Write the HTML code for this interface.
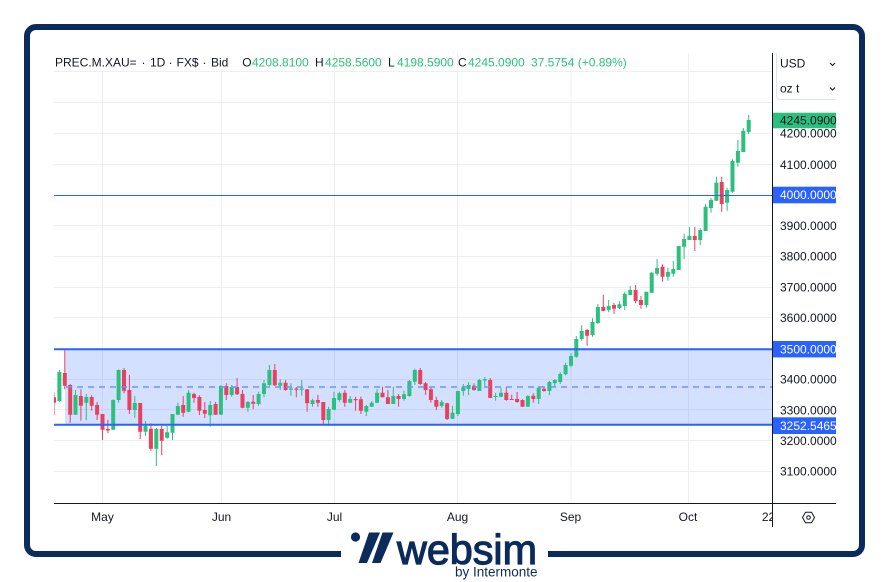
<!DOCTYPE html>
<html><head><meta charset="utf-8"><style>
html,body{margin:0;padding:0;background:#fff;}
svg{display:block;font-family:"Liberation Sans",Arial,sans-serif;}
</style></head><body>
<svg width="890" height="582" viewBox="0 0 890 582" xmlns="http://www.w3.org/2000/svg">
<defs>
<clipPath id="plot"><rect x="54" y="53" width="718" height="450"/></clipPath>
<clipPath id="tax"><rect x="54" y="504" width="718" height="30"/></clipPath>
</defs>
<rect width="890" height="582" fill="#fff"/>
<!-- frame -->
<rect x="27" y="27" width="835" height="527" rx="9" ry="9" fill="#fff" stroke="#0b2b5c" stroke-width="6"/>
<rect x="341" y="546" width="207" height="14" fill="#fff"/>

<!-- grid -->
<g stroke="#eeeff2" stroke-width="1">
<path d="M54 71.5H772M54 102.5H772M54 133.5H772M54 164.5H772M54 225.5H772M54 256.5H772M54 287.5H772M54 317.5H772M54 379.5H772M54 409.5H772M54 440.5H772M54 471.5H772"/>
<path d="M102.5 53V503M221.5 53V503M334.5 53V503M457.5 53V503M571 53V503M688.5 53V503"/>
</g>
<rect x="54" y="53" width="184" height="18" fill="#fff"/>

<!-- rectangle zone -->
<rect x="65" y="349.3" width="707" height="75.5" fill="rgba(41,98,255,0.2)"/>

<g clip-path="url(#plot)">
<!-- green candles -->
<path fill="none" stroke="#2dbf7e" stroke-width="1" d="M59.4 370V401.7M75.5 390V415M86.3 394V420.3M113.2 399.3V430M118.6 369.3V402.7M134.8 396V417.7M145.5 421V435.7M156.3 428V466M167.1 426V438.7M172.5 414V440M177.9 402.7V415M188.6 390V412.3M210.2 401V426.7M220.9 385V414.7M231.7 385V396.7M247.9 401V411.7M258.6 391.7V405.7M264 380V397.3M269.4 365V386M280.2 379.3V390M290.9 383.3V395.7M301.7 380V395.7M312.5 398.7V406.7M328.6 406.7V425.7M334 391.7V410M339.4 391.7V401.7M350.2 396V403.3M366.3 405V416M371.7 401.3V406.7M377.1 389.3V403.3M393.3 386.7V404M404 390.7V400.7M409.4 380V396.7M414.8 368.7V385M441.7 400V407.7M452.5 405.7V419M457.9 390.7V416M463.3 384V395.7M468.6 382V395M479.4 378.7V391M484.8 377V386M495.6 392.7V400.7M501 387.7V397.3M527.9 395V406.7M538.7 386V404M549.4 381V395M554.8 379V387.3M560.2 372V384M565.6 362.7V375.3M571 353.3V367.3M576.3 336V357.7M581.7 325.3V340.7M592.5 318.3V336.7M597.9 304V324M608.7 300V312.3M619.4 301V309M624.8 291.7V310M630.2 286V295M646.4 291.7V307.7M651.7 272V292.7M657.1 259V275.7M667.9 267.7V280.7M673.3 260.7V276.7M678.7 246V270M684.1 233.7V259M689.4 227V240M700.2 228.3V245M705.6 204V231M711 198V212.7M716.4 176.7V201M727.1 187.7V210.7M732.5 159.3V192.7M737.9 140V166.7M743.3 128V152M748.7 115V134"/>
<path fill="#2dbf7e" d="M57.4 372h4V401h-4zM73.5 395h4V414.7h-4zM84.3 397h4V402.7h-4zM111.2 400h4V429.7h-4zM116.6 370h4V400h-4zM132.8 403h4V410h-4zM143.5 426h4V431.7h-4zM154.3 429h4V448.7h-4zM165.1 432.3h4V437.7h-4zM170.5 414h4V432.7h-4zM175.9 406h4V414.7h-4zM186.6 392.7h4V411.7h-4zM208.2 405h4V415.3h-4zM218.9 386h4V414.7h-4zM229.7 387h4V395h-4zM245.9 402h4V407.7h-4zM256.6 394h4V404h-4zM262 383.3h4V394h-4zM267.4 370h4V385h-4zM278.2 382.7h4V385.7h-4zM288.9 388.5h4V389.7h-4zM299.7 388.5h4V389.7h-4zM310.5 400.3h4V404h-4zM326.6 409h4V420h-4zM332 398h4V409.7h-4zM337.4 393.3h4V400h-4zM348.2 399h4V402.7h-4zM364.3 406h4V411.7h-4zM369.7 402.7h4V406.7h-4zM375.1 392.7h4V402.7h-4zM391.3 396h4V404h-4zM402 394.3h4V399h-4zM407.4 381h4V396h-4zM412.8 370h4V381.7h-4zM439.7 402h4V406h-4zM450.5 412.7h4V418.7h-4zM455.9 391h4V414h-4zM461.3 387.3h4V391h-4zM466.6 385h4V389h-4zM477.4 380h4V391h-4zM482.8 379.3h4V380.5h-4zM493.6 396h4V397h-4zM499 392.7h4V396.7h-4zM525.9 396h4V406.7h-4zM536.7 387.7h4V399h-4zM547.4 382h4V391h-4zM552.8 380h4V383.3h-4zM558.2 374h4V382h-4zM563.6 365h4V374.3h-4zM569 356h4V365.7h-4zM574.3 339h4V356.7h-4zM579.7 331h4V339h-4zM590.5 322h4V335h-4zM595.9 307h4V323h-4zM606.7 306h4V310h-4zM617.4 304.3h4V308h-4zM622.8 293.7h4V306h-4zM628.2 290h4V295h-4zM644.4 291.7h4V305h-4zM649.7 272.7h4V292.7h-4zM655.1 268h4V273.7h-4zM665.9 272h4V276.7h-4zM671.3 269h4V273.7h-4zM676.7 246h4V270h-4zM682.1 239h4V246.7h-4zM687.4 236h4V240h-4zM698.2 230h4V240h-4zM703.6 206.7h4V231h-4zM709 200h4V208h-4zM714.4 182.7h4V200.7h-4zM725.1 190h4V202.7h-4zM730.5 161h4V191.7h-4zM735.9 151h4V162.7h-4zM741.3 130.7h4V152h-4zM746.7 120h4V132h-4z"/>
<!-- red candles -->
<path fill="none" stroke="#e8415f" stroke-width="1" d="M54 392.7V415M64.8 349.3V389.3M70.2 384V422.7M80.9 389.3V420.7M91.7 395.3V410.7M97.1 402V420M102.5 414V440M107.9 420V433.3M124 368V393.3M129.4 375V414M140.2 403V439M150.9 423.3V450.7M161.7 425.7V455M183.2 396V416.7M194 392.7V402.7M199.4 395.3V415M204.8 402V418M215.6 402V415M226.3 383.3V400M237.1 378V395M242.5 390V408.3M253.2 395V409.3M274.8 364V386M285.6 380V390.7M296.3 387V397.3M307.1 389.3V411.7M317.9 395V406.7M323.3 402V424M344.8 390V406.7M355.6 396.7V410.7M360.9 396.7V414M382.5 386.7V397.3M387.9 390V404M398.6 394V406.7M420.2 368V385M425.6 382V395M430.9 387.3V402.7M436.3 396.7V410M447.1 402.7V420M474 383.3V390.7M490.2 378V398M506.3 387.3V400.7M511.7 394.7V400M517.1 392V402.7M522.5 399.3V406.7M533.3 393.3V402.7M544 387.3V391.7M587.1 329V345.7M603.3 294.7V311M614 302.7V314M635.6 285V303.3M641 296V308.7M662.5 264.3V281.7M694.8 227V251M721.7 176.7V211.7"/>
<path fill="#e8415f" d="M52 397.3h4V402.7h-4zM62.8 373h4V385.7h-4zM68.2 385h4V414.7h-4zM78.9 396h4V405.7h-4zM89.7 397h4V405.7h-4zM95.1 405h4V414.7h-4zM100.5 414h4V429.7h-4zM105.9 429h4V430.5h-4zM122 370h4V390.7h-4zM127.4 390h4V410h-4zM138.2 403h4V431.7h-4zM148.9 428.7h4V448.7h-4zM159.7 429h4V440.7h-4zM181.2 405h4V412.7h-4zM192 394h4V398h-4zM197.4 397h4V410.7h-4zM202.8 410h4V413.7h-4zM213.6 404h4V414.7h-4zM224.3 386h4V395h-4zM235.1 387h4V394.3h-4zM240.5 394h4V407.7h-4zM251.2 401.7h4V403.7h-4zM272.8 370h4V385.3h-4zM283.6 382.7h4V390h-4zM294.3 388.5h4V389.7h-4zM305.1 389.3h4V403.3h-4zM315.9 400h4V402.7h-4zM321.3 402h4V420h-4zM342.8 392.7h4V402.7h-4zM353.6 399h4V400.2h-4zM358.9 399.3h4V410.7h-4zM380.5 392.7h4V397.3h-4zM385.9 397.3h4V404h-4zM396.6 396h4V399h-4zM418.2 370h4V384h-4zM423.6 383.3h4V390h-4zM428.9 389.3h4V400h-4zM434.3 400h4V406.7h-4zM445.1 403.3h4V419h-4zM472 385.7h4V390h-4zM488.2 380h4V398h-4zM504.3 392.7h4V400h-4zM509.7 399h4V400h-4zM515.1 399h4V402h-4zM520.5 400h4V406.7h-4zM531.3 395.7h4V399h-4zM542 388.7h4V391h-4zM585.1 330h4V335.7h-4zM601.3 307h4V311h-4zM612 305h4V308.7h-4zM633.6 290h4V301h-4zM639 300h4V305h-4zM660.5 266.7h4V276.7h-4zM692.8 236h4V240h-4zM719.7 182h4V204h-4z"/>
</g>

<!-- horizontal lines -->
<path d="M54 195.5H772" stroke="#2962ff" stroke-width="1"/>
<path d="M54 349.3H772M54 424.8H772" stroke="#2962ff" stroke-width="2"/>
<path d="M66 387H772" stroke="#6b95f9" stroke-width="1.6" stroke-dasharray="6 5"/>

<!-- axes -->
<path d="M772.5 53V527" stroke="#131722" stroke-width="1"/>
<path d="M54 503.5H836" stroke="#131722" stroke-width="1"/>

<!-- header legend -->
<text y="66.5" font-size="12" fill="#131722">
<tspan x="55">PREC.M.XAU=</tspan><tspan x="141.5">·</tspan><tspan x="150">1D</tspan><tspan x="168.5">·</tspan><tspan x="176.5">FX$</tspan><tspan x="202.5">·</tspan><tspan x="211">Bid</tspan>
<tspan x="242.3">O</tspan><tspan x="252" fill="#2dbf7e">4208.8100</tspan>
<tspan x="315">H</tspan><tspan x="325" fill="#2dbf7e">4258.5600</tspan>
<tspan x="388">L</tspan><tspan x="397" fill="#2dbf7e">4198.5900</tspan>
<tspan x="458">C</tspan><tspan x="468" fill="#2dbf7e">4245.0900</tspan>
<tspan x="531" fill="#2dbf7e">37.5754 (+0.89%)</tspan>
</text>

<!-- currency / unit box -->
<path d="M776.5 53V96a3.5 3.5 0 0 0 3.5 3.5H836" fill="none" stroke="#e0e3eb" stroke-width="1"/>
<text x="780" y="67.5" font-size="12" fill="#131722">USD</text>
<text x="780" y="92.5" font-size="12" fill="#131722">oz t</text>
<polyline points="830,63 832.5,65.5 835,63" fill="none" stroke="#131722" stroke-width="1.1"/>
<polyline points="830,87.5 832.5,90 835,87.5" fill="none" stroke="#131722" stroke-width="1.1"/>

<!-- price labels -->
<g font-size="12" fill="#131722">
<text x="780" y="137.6">4200.0000</text>
<text x="780" y="168.9">4100.0000</text>
<text x="780" y="229.9">3900.0000</text>
<text x="780" y="260.6">3800.0000</text>
<text x="780" y="291.4">3700.0000</text>
<text x="780" y="322.1">3600.0000</text>
<text x="780" y="383.5">3400.0000</text>
<text x="780" y="414.3">3300.0000</text>
<text x="780" y="445">3200.0000</text>
<text x="780" y="475.7">3100.0000</text>
</g>
<rect x="773" y="112.7" width="63" height="15.6" fill="#2dbf7e"/>
<text x="780" y="124.6" font-size="12" fill="#131722">4245.0900</text>
<rect x="773" y="186.7" width="63" height="16.6" fill="#2962ff"/>
<text x="780" y="199.2" font-size="12" fill="#fff">4000.0000</text>
<rect x="773" y="341" width="63" height="16.4" fill="#2962ff"/>
<text x="780" y="353.4" font-size="12" fill="#fff">3500.0000</text>
<rect x="773" y="417.3" width="63" height="16.7" fill="#2962ff"/>
<text x="780" y="429.8" font-size="12" fill="#fff">3252.5465</text>

<!-- time labels -->
<g font-size="12" fill="#131722" text-anchor="middle">
<text x="102.5" y="521">May</text>
<text x="221.5" y="521">Jun</text>
<text x="334.5" y="521">Jul</text>
<text x="457.5" y="521">Aug</text>
<text x="570.5" y="521">Sep</text>
<text x="688" y="521">Oct</text>
<text x="768.5" y="521" clip-path="url(#tax)">22</text>
</g>
<!-- settings icon -->
<polygon points="802.5,517.5 805.5,512.3 811.5,512.3 814.5,517.5 811.5,522.7 805.5,522.7" fill="none" stroke="#131722" stroke-width="1"/>
<circle cx="808.5" cy="517.5" r="1.8" fill="none" stroke="#131722" stroke-width="1"/>

<!-- logo -->
<g fill="#0b2b5c">
<circle cx="355.5" cy="537" r="4.6"/>
<polygon points="369,532.5 380,532.5 367,563 358.5,563"/>
<polygon points="382.5,532.5 393.5,532.5 380.5,563 372,563"/>
<text x="397" y="564" font-size="42" stroke="#0b2b5c" stroke-width="1.2" textLength="140" lengthAdjust="spacingAndGlyphs">websim</text>
<text x="455" y="576.5" font-size="13.5">by Intermonte</text>
</g>
</svg>
</body></html>
